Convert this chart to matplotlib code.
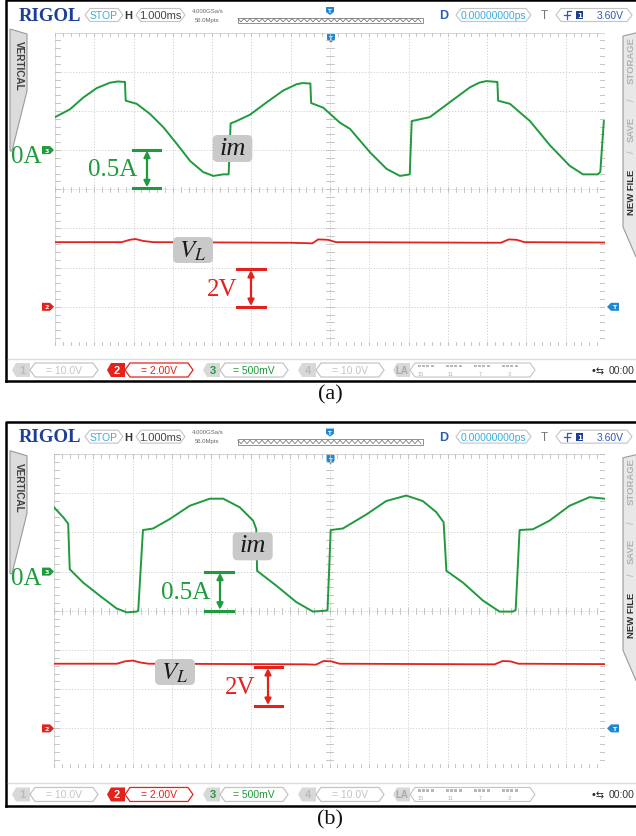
import matplotlib
matplotlib.use('Agg')
import matplotlib.pyplot as plt
from matplotlib.patches import Polygon, FancyBboxPatch, Rectangle
import numpy as np

# ---------------- data ----------------
# panel (a): magnetising current im (A) vs time (ms, 0 = screen centre)
t_im_a = [-7.00, -6.62, -6.28, -5.94, -5.60, -5.40, -5.26, -5.22, -5.20, -4.92, -4.58, -4.24, -3.90,
          -3.56, -3.23, -2.97, -2.72, -2.58, -2.53, -2.38, -2.04, -1.61, -1.19, -0.85, -0.70, -0.55,
          -0.50, -0.48, -0.17, 0.25, 0.51, 1.02, 1.44, 1.78, 2.03, 2.08, 2.54, 3.05, 3.56,
          3.80, 3.98, 4.24, 4.26, 4.28, 4.58, 5.09, 5.60, 6.10, 6.44, 6.82, 6.88, 6.97]
im_a = [0.42, 0.52, 0.67, 0.79, 0.86, 0.875, 0.87, 0.87, 0.63, 0.59, 0.46, 0.29, 0.08,
        -0.14, -0.28, -0.33, -0.31, -0.31, 0.34, 0.37, 0.45, 0.61, 0.76, 0.84, 0.855, 0.85,
        0.85, 0.60, 0.54, 0.35, 0.27, -0.03, -0.24, -0.33, -0.31, 0.37, 0.42, 0.61, 0.80,
        0.86, 0.88, 0.87, 0.87, 0.63, 0.59, 0.37, 0.06, -0.20, -0.31, -0.31, -0.28, 0.37]
# panel (a): inductor voltage VL (V)
t_vl_a = [-7.0, -5.3, -5.1, -4.95, -4.75, -4.5, -1.0, -0.45, -0.3, -0.05, 0.15, 4.1, 4.35, 4.55, 4.75, 4.95, 7.0]
vl_a = [3.30, 3.30, 3.42, 3.46, 3.36, 3.30, 3.27, 3.24, 3.44, 3.42, 3.30, 3.27, 3.27, 3.44, 3.42, 3.30, 3.28]

# panel (b)
t_im_b = [-7.00, -6.76, -6.64, -6.60, -6.26, -5.83, -5.41, -5.15, -4.90, -4.86, -4.74, -4.48,
          -4.06, -3.55, -3.04, -2.70, -2.28, -1.94, -1.86, -1.84, -1.35, -0.84, -0.42, -0.12,
          -0.05, 0.03, 0.34, 0.94, 1.44, 1.95, 2.37, 2.71, 2.90, 2.97, 3.39, 3.90, 4.32,
          4.66, 4.73, 4.83, 5.17, 5.59, 6.10, 6.61, 6.98]
im_b = [0.82, 0.69, 0.61, 0.03, -0.14, -0.31, -0.47, -0.52, -0.51, -0.50, 0.53, 0.55,
        0.67, 0.84, 0.93, 0.93, 0.82, 0.65, 0.54, 0.01, -0.18, -0.39, -0.51, -0.50,
        -0.49, 0.53, 0.55, 0.73, 0.90, 0.97, 0.90, 0.76, 0.63, 0.01, -0.14, -0.37, -0.51,
        -0.51, -0.49, 0.53, 0.54, 0.65, 0.84, 0.95, 0.93]
t_vl_b = [-7.0, -5.4, -5.2, -5.0, -4.8, -4.6, -0.6, -0.35, -0.15, 0.05, 0.25, 4.0, 4.2, 4.4, 4.6, 4.8, 7.0]
vl_b = [3.30, 3.30, 3.42, 3.46, 3.36, 3.30, 3.27, 3.25, 3.44, 3.42, 3.30, 3.27, 3.27, 3.44, 3.42, 3.30, 3.28]

im_scale = 0.5     # A / div
vl_scale = 2.0     # V / div
im_zero_div = 1.0  # 0 A marker position (div above centre)
vl_zero_div = -3.0 # channel-2 ground position

top_labels = ["STOP", "H", "1.000ms", "4.000GSa/s", "56.0Mpts", "D", "0.00000000ps", "T", "3.60V"]
ch_labels = ["= 10.0V", "= 2.00V", "= 500mV", "= 10.0V"]
la_numbers = ["15", "11", "7", "3"]
right_tabs = ["STORAGE", "SAVE", "NEW FILE"]

W, H = 636, 837
fig = plt.figure(figsize=(W / 100, H / 100), dpi=100)
fig.patch.set_facecolor('white')
plt.rcParams['mathtext.fontset'] = 'stix'

ui = fig.add_axes([0, 0, 1, 1], zorder=0)
ui.set_xlim(0, W); ui.set_ylim(H, 0); ui.axis('off')
top = fig.add_axes([0, 0, 1, 1], zorder=5)
top.set_xlim(0, W); top.set_ylim(H, 0); top.axis('off'); top.patch.set_alpha(0)

GREEN = '#1f9a3c'
RED = '#e3221c'
BLUE = '#1e88d0'
CYAN = '#38aee0'
LGRAY = '#c4c4c4'
SERIF = 'Liberation Serif'
SANS = 'Liberation Sans'


def hexbox(ax, x0, x1, yc, h, ec=LGRAY, fc='white', lw=0.8, tip=5):
    pts = [(x0 + tip, yc - h / 2), (x1 - tip, yc - h / 2), (x1, yc), (x1 - tip, yc + h / 2),
           (x0 + tip, yc + h / 2), (x0, yc)]
    ax.add_patch(Polygon(pts, closed=True, fc=fc, ec=ec, lw=lw))


def panel(oy, s, grid, im_t, im_v, vl_t, vl_v, ann):
    def P(x, y):
        return x, oy + s * y
    # outer black frame
    ui.plot([5.5, 5.5, 640], [oy + s * 382, oy + 1, oy + 1], color='black', lw=1.8)
    ui.plot([5.5, 640], [oy + s * 382, oy + s * 382], color='black', lw=1.8)
    # ---- top bar ----
    yc = oy + s * 16
    ui.text(19, yc, "RIGOL", family=SERIF, weight='bold', fontsize=13.5, color='#1c3f95',
            va='center', ha='left')
    hexbox(ui, 85, 123, yc, 13)
    ui.text(104, yc, top_labels[0], family=SANS, fontsize=7.5, color=CYAN, ha='center', va='center')
    ui.text(128, yc, top_labels[1], family=SANS, weight='bold', fontsize=8, color='#333333',
            ha='center', va='center')
    hexbox(ui, 136, 185, yc, 13)
    ui.text(160.5, yc, top_labels[2], family=SANS, fontsize=8, color='#444444', ha='center', va='center')
    ui.text(192, oy + s * 11, top_labels[3], family=SANS, fontsize=4.3, color='#666666', ha='left', va='center')
    ui.text(195, oy + s * 20, top_labels[4], family=SANS, fontsize=4.3, color='#666666', ha='left', va='center')
    # zig-zag memory strip
    zx0, zx1 = 238, 423
    zy0, zy1 = oy + s * 18.5, oy + s * 24
    ui.add_patch(Rectangle((zx0, zy0), zx1 - zx0, zy1 - zy0, fc='white', ec='#666666', lw=0.5))
    xs = np.arange(zx0, zx1 + 0.1, 3.0)
    ys = np.where(np.arange(len(xs)) % 2 == 0, zy0 + 1, zy1 - 1)
    ui.plot(xs, ys, color='#666666', lw=0.5)
    # trigger markers
    ui.add_patch(Polygon([(326, oy + s * 8), (334, oy + s * 8), (334, oy + s * 13), (330, oy + s * 16),
                          (326, oy + s * 13)], fc=BLUE, ec='none'))
    ui.text(330, oy + s * 11.5, "T", fontsize=4, color='white', ha='center', va='center', weight='bold')
    ui.text(444, yc, top_labels[5], family=SANS, weight='bold', fontsize=9, color='#2a5cb8',
            ha='center', va='center')
    hexbox(ui, 456, 531, yc, 13)
    ui.text(493.5, yc, top_labels[6], family=SANS, fontsize=7.5, color=CYAN, ha='center', va='center')
    ui.text(544, yc, top_labels[7], family=SANS, fontsize=8.5, color='#777777', ha='center', va='center')
    hexbox(ui, 556, 632, yc, 13)
    ui.plot([567, 567, 571], [yc + 4, yc - 4, yc - 4], color='#2a5cb8', lw=0.9)
    ui.plot([564, 570], [yc, yc], color='#2a5cb8', lw=0.9)
    ui.add_patch(Rectangle((576, yc - 4), 7, 8, fc='#1c3f95', ec='none'))
    ui.text(579.5, yc, "1", fontsize=5, color='white', ha='center', va='center', weight='bold')
    ui.text(610, yc, top_labels[8], family=SANS, fontsize=7.5, color='#2a5cb8', ha='center', va='center')

    # ---- left VERTICAL tab ----
    ui.add_patch(Polygon([P(10, 30), P(27, 35), P(27, 92), P(12, 152), P(10, 152)], closed=True,
                         fc='#dcdcdc', ec='#9a9a9a', lw=0.8))
    ui.text(18.5, oy + s * 66, "VERTICAL", family=SANS, weight='bold', fontsize=7.2, color='#404040',
            rotation=-90, ha='center', va='center')
    # ---- right tab ----
    ui.add_patch(Polygon([P(640, 33), P(623, 37), P(623, 228), P(636, 258), P(640, 258)], closed=True,
                         fc='#e8e8e8', ec='#9a9a9a', lw=0.8))
    ui.text(631, oy + s * 60, right_tabs[0], family=SANS, weight='bold', fontsize=6.8, color='#b0b0b0',
            rotation=90, ha='center', va='center')
    ui.text(631, oy + s * 100, "/", family=SANS, fontsize=6.5, color='#b0b0b0', rotation=90,
            ha='center', va='center')
    ui.text(631, oy + s * 129, right_tabs[1], family=SANS, weight='bold', fontsize=6.8, color='#b0b0b0',
            rotation=90, ha='center', va='center')
    ui.text(631, oy + s * 152, "/", family=SANS, fontsize=6.5, color='#b0b0b0', rotation=90,
            ha='center', va='center')
    ui.text(631, oy + s * 192, right_tabs[2], family=SANS, weight='bold', fontsize=6.8, color='#303030',
            rotation=90, ha='center', va='center')

    # ---- bottom bar ----
    ui.plot([8, 640], [oy + s * 360, oy + s * 360], color='#dddddd', lw=1.0)
    yb = oy + s * 371
    tabs = [(12, 30, 98, '#d8d8d8', '#bbbbbb', "1", LGRAY, LGRAY),
            (107, 125, 193, RED, 'white', "2", RED, RED),
            (203, 220, 288, '#d8d8d8', GREEN, "3", LGRAY, GREEN),
            (298, 316, 384, '#d8d8d8', '#bbbbbb', "4", LGRAY, LGRAY)]
    for i, (a0, a1, a2, tfc, tcol, lab, bec, txtc) in enumerate(tabs):
        ui.add_patch(Polygon([(a0 + 4, yb - 7), (a1, yb - 7), (a1, yb + 7), (a0 + 4, yb + 7), (a0, yb)],
                             fc=tfc, ec='none'))
        ui.text((a0 + a1) / 2 + 1, yb, lab, family=SANS, weight='bold', fontsize=8, color=tcol,
                ha='center', va='center')
        hexbox(ui, a1, a2, yb, 14, ec=bec, lw=0.9)
        ui.text((a1 + a2) / 2, yb, ch_labels[i], family=SANS, fontsize=7.5, color=txtc,
                ha='center', va='center')
    ui.add_patch(Polygon([(397, yb - 7), (410, yb - 7), (410, yb + 7), (397, yb + 7), (393, yb)],
                         fc='#d8d8d8', ec='none'))
    ui.text(402, yb, "LA", family=SANS, weight='bold', fontsize=7, color='#aaaaaa', ha='center', va='center')
    hexbox(ui, 410, 535, yb, 14, ec=LGRAY)
    for k, gx in enumerate([418, 446, 474, 502]):
        for q in range(4):
            ui.add_patch(Rectangle((gx + q * 4.2, yb - 5), 3, 2.2, fc='#b8b8b8', ec='none'))
        ui.text(gx + 3 + (k * 1.5), yb + 3.5, la_numbers[k], family=SANS, fontsize=4, color='#b0b0b0',
                ha='center', va='center')
    ui.text(598, yb, "•⇆", family='DejaVu Sans', fontsize=7, color='#222222', ha='center', va='center')
    ui.text(609, yb, "00:00", family=SANS, fontsize=7.5, color='#333333', ha='left', va='center')

    # ---- graticule axes ----
    gx0, gx1, gy0, gy1 = grid
    ax = fig.add_axes([gx0 / W, 1 - gy1 / H, (gx1 - gx0) / W, (gy1 - gy0) / H], zorder=2)
    ax.set_xlim(-7, 7); ax.set_ylim(-4, 4)
    ax.patch.set_alpha(0)
    for sp in ax.spines.values():
        sp.set_visible(False)
    ax.set_xticks([]); ax.set_yticks([])
    gstyle = dict(color='#cfcfcf', lw=0.7, ls=(0, (1.2, 1.8)), zorder=0)
    for i in range(-7, 8):
        ax.axvline(i, **gstyle)
    for j in range(-4, 5):
        ax.axhline(j, **gstyle)
    ax.axvline(-7, color='#d8d8d8', lw=0.8, zorder=0)
    ax.axvline(7, color='#d8d8d8', lw=0.8, zorder=0)
    ax.axhline(4, color='#d8d8d8', lw=0.8, zorder=0)
    ax.axhline(-4, color='#d8d8d8', lw=0.8, zorder=0)
    tk = dict(color='#bdbdbd', lw=0.6, zorder=0)
    for xm in np.arange(-7, 7.01, 0.2):
        ax.plot([xm, xm], [-0.07, 0.07], **tk)
        ax.plot([xm, xm], [4, 3.9], **tk)
        ax.plot([xm, xm], [-4, -3.9], **tk)
    for ym in np.arange(-4, 4.01, 0.2):
        ax.plot([-0.1, 0.1], [ym, ym], **tk)
        ax.plot([-7, -6.87], [ym, ym], **tk)
        ax.plot([7, 6.87], [ym, ym], **tk)
    # traces
    ax.plot(vl_t, np.array(vl_v) / vl_scale + vl_zero_div, color=RED, lw=1.3, zorder=3)
    ax.plot(im_t, np.array(im_v) / im_scale + im_zero_div, color=GREEN, lw=1.4, zorder=4,
            solid_joinstyle='round')
    # trigger marker at top centre
    tx = (gx0 + gx1) / 2 + 1
    ui.add_patch(Polygon([(tx - 4, gy0 + 1), (tx + 4, gy0 + 1), (tx + 4, gy0 + 7), (tx, gy0 + 10),
                          (tx - 4, gy0 + 7)], fc=BLUE, ec='none'))
    ui.text(tx, gy0 + 5, "T", fontsize=4, color='white', ha='center', va='center', weight='bold')

    # channel markers
    def gy(div):
        return gy0 + (4 - div) * (gy1 - gy0) / 8
    y3 = gy(im_zero_div)
    top.add_patch(Polygon([(42, y3 - 4), (50, y3 - 4), (54, y3), (50, y3 + 4), (42, y3 + 4)], fc=GREEN, ec='none'))
    top.text(46.5, y3, "3", fontsize=4.5, color='white', ha='center', va='center', weight='bold')
    y2 = gy(vl_zero_div)
    top.add_patch(Polygon([(42, y2 - 4), (50, y2 - 4), (54, y2), (50, y2 + 4), (42, y2 + 4)], fc=RED, ec='none'))
    top.text(46.5, y2, "2", fontsize=4.5, color='white', ha='center', va='center', weight='bold')
    top.add_patch(Polygon([(619, y2 - 4), (611, y2 - 4), (607, y2), (611, y2 + 4), (619, y2 + 4)], fc=BLUE, ec='none'))
    top.text(614, y2, "T", fontsize=4.5, color='white', ha='center', va='center', weight='bold')

    # ---- annotations ----
    top.text(26, y3 + 6, "0A", family=SERIF, fontsize=18, color=GREEN, ha='center', va='center')
    bx0, bx1, ba, bb, ax_x, tx5, ty5 = ann['amp']
    top.plot([bx0, bx1], [ba, ba], color=GREEN, lw=2.2)
    top.plot([bx0, bx1], [bb, bb], color=GREEN, lw=2.2)
    top.annotate('', xy=(ax_x, ba + 1), xytext=(ax_x, bb - 1),
                 arrowprops=dict(arrowstyle='<|-|>', color=GREEN, lw=1.6, mutation_scale=9,
                                 shrinkA=0, shrinkB=0))
    top.text(tx5, ty5, "0.5A", family=SERIF, fontsize=18, color=GREEN, ha='center', va='center')
    ix, iy, iw, ih = ann['im']
    top.add_patch(FancyBboxPatch((ix, iy), iw, ih, boxstyle='round,pad=0,rounding_size=5',
                                 fc='#c9c9c9', ec='none'))
    top.text(ix + iw / 2, iy + ih / 2 - 1, "im", family=SERIF, style='italic', fontsize=19,
             color='#1a1a1a', ha='center', va='center')
    vx, vy, vw, vh = ann['vl']
    top.add_patch(FancyBboxPatch((vx, vy), vw, vh, boxstyle='round,pad=0,rounding_size=5',
                                 fc='#c9c9c9', ec='none'))
    top.text(vx + vw / 2, vy + vh / 2, r'$V_L$', fontsize=18, color='#1a1a1a', ha='center', va='center')
    cx0, cx1, ca, cb, cx, ctx, cty = ann['volt']
    top.plot([cx0, cx1], [ca, ca], color=RED, lw=2.2)
    top.plot([cx0, cx1], [cb, cb], color=RED, lw=2.2)
    top.annotate('', xy=(cx, ca + 1), xytext=(cx, cb - 1),
                 arrowprops=dict(arrowstyle='<|-|>', color=RED, lw=1.6, mutation_scale=9,
                                 shrinkA=0, shrinkB=0))
    top.text(ctx, cty, "2V", family=SERIF, fontsize=18, color=RED, ha='center', va='center')
    top.text(330, oy + s * 395, ann['cap'], family=SERIF, fontsize=16, color='#111111',
             ha='center', va='center')


panel(0, 1.0, (55, 605, 33.5, 347), t_im_a, im_a, t_vl_a, vl_a,
      dict(amp=(133, 160, 150.7, 189.3, 147, 113, 170),
           im=(212.7, 136, 39.6, 27),
           vl=(173, 238, 40, 26),
           volt=(237, 265, 270, 308, 251, 222, 290),
           cap='(a)'))
panel(421.5, 1.008, (54, 605, 455, 768.6), t_im_b, im_b, t_vl_b, vl_b,
      dict(amp=(205, 233, 572.7, 611.7, 220, 186, 593),
           im=(232.7, 533.3, 40, 28),
           vl=(155, 660, 40, 26),
           volt=(255, 282, 668, 707, 268, 240, 688),
           cap='(b)'))

fig.savefig('out.png', dpi=100, facecolor='white')
